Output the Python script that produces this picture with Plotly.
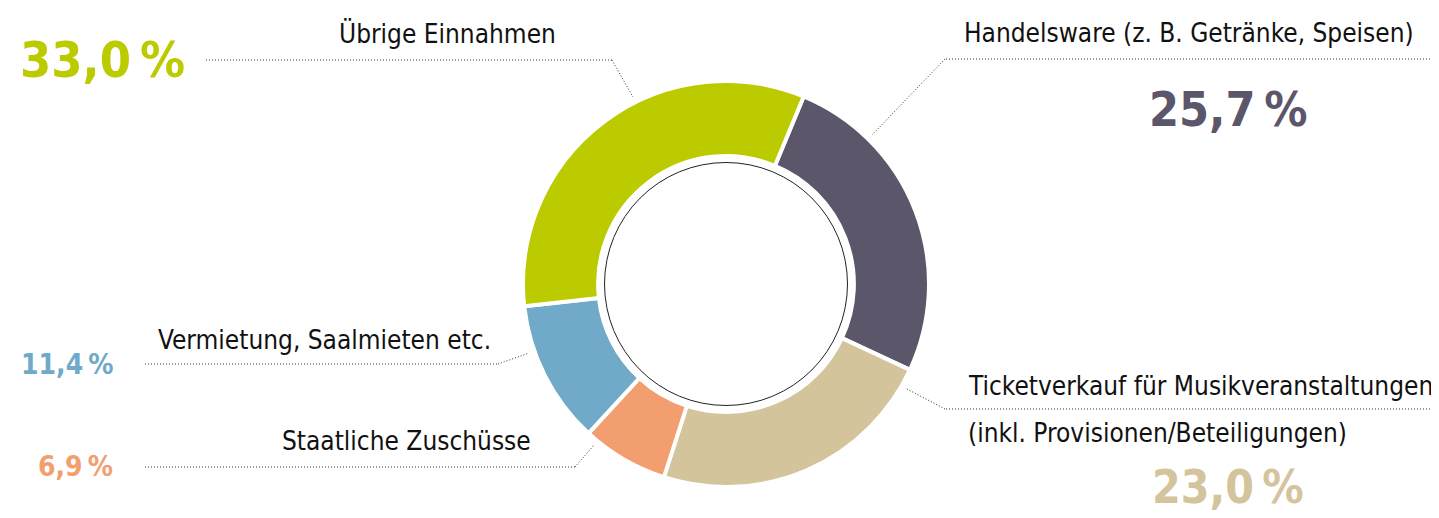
import plotly.graph_objects as go

# ---- data ----
categories = [
    "Handelsware (z. B. Getränke, Speisen)",
    "Ticketverkauf für Musikveranstaltungen (inkl. Provisionen/Beteiligungen)",
    "Staatliche Zuschüsse",
    "Vermietung, Saalmieten etc.",
    "Übrige Einnahmen",
]
values = [25.7, 23.0, 6.9, 11.4, 33.0]
value_labels = ["25,7\u2009%", "23,0\u2009%", "6,9\u2009%", "11,4\u2009%", "33,0\u2009%"]
colors = ["#5C566B", "#D3C49C", "#F29E6F", "#70AAC8", "#BBCB00"]

# page offset (default body margin of the html page)
OFF = 8
W, H = 1439 - OFF, 518 - OFF
CX, CY, R = 726, 284, 203


def px(x):
    return (x - OFF) / W


def py(y):
    return 1 - (y - OFF) / H


FONT = "Liberation Sans Narrow, DejaVu Sans Condensed, Arial Narrow, sans-serif"

fig = go.Figure()
fig.add_trace(go.Pie(
    labels=categories,
    values=values,
    sort=False,
    direction="clockwise",
    rotation=22.5,
    hole=0.63,
    marker=dict(colors=colors, line=dict(color="white", width=4)),
    textinfo="none",
    hoverinfo="label+percent",
    showlegend=False,
    domain=dict(x=[px(CX - R), px(CX + R)], y=[py(CY + R), py(CY - R)]),
))

shapes = []
# inner thin circle
rc = 121.5
shapes.append(dict(type="circle", xref="paper", yref="paper",
                   x0=px(CX - rc), x1=px(CX + rc), y0=py(CY + rc), y1=py(CY - rc),
                   line=dict(color="#222222", width=1), fillcolor="rgba(0,0,0,0)"))

# leader lines (pixel layout positions in the reference)
leaders = [
    [(206, 60), (612, 60), (633, 97)],
    [(1436, 59), (945, 59), (872, 135)],
    [(1436, 409), (945, 409), (905, 388)],
    [(145, 364), (498, 364), (529, 353)],
    [(145, 467), (575, 467), (594, 445)],
]
for pts in leaders:
    for (x0, y0), (x1, y1) in zip(pts[:-1], pts[1:]):
        shapes.append(dict(type="line", xref="paper", yref="paper",
                           x0=px(x0), y0=py(y0), x1=px(x1), y1=py(y1),
                           line=dict(color="#333333", width=1, dash="1px,2px")))

annotations = []


def label(text, x, y, anchor="center", size=26, color="#111111", bold=False):
    annotations.append(dict(
        text=f"<b>{text}</b>" if bold else text,
        x=px(x), y=py(y), xref="paper", yref="paper",
        xanchor=anchor, yanchor="middle", showarrow=False,
        font=dict(family=FONT, size=size, color=color),
    ))


label("Übrige Einnahmen", 447, 33)
label("Handelsware (z. B. Getränke, Speisen)", 1189, 33)
label("Ticketverkauf für Musikveranstaltungen", 966, 386, anchor="left")
label("(inkl. Provisionen/Beteiligungen)", 966, 433, anchor="left")
label("Vermietung, Saalmieten etc.", 493, 340, anchor="right")
label("Staatliche Zuschüsse", 533, 441, anchor="right")

label(value_labels[4], 102, 60, size=50, color=colors[4], bold=True)
label(value_labels[0], 1228, 109, size=48, color=colors[0], bold=True)
label(value_labels[1], 1228, 487, size=46, color=colors[1], bold=True)
label(value_labels[3], 115, 364, anchor="right", size=28, color=colors[3], bold=True)
label(value_labels[2], 115, 466, anchor="right", size=28, color=colors[2], bold=True)

fig.update_layout(
    width=W, height=H,
    margin=dict(l=0, r=0, t=0, b=0),
    paper_bgcolor="white", plot_bgcolor="white",
    shapes=shapes, annotations=annotations,
)

fig.write_html("out.html")
